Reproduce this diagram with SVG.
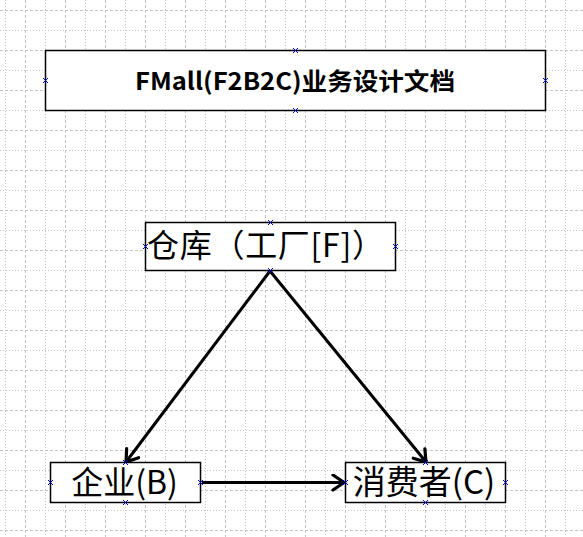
<svg xmlns="http://www.w3.org/2000/svg" width="583" height="537" viewBox="0 0 583 537">
<defs>
<style>
.gd{stroke:#c4c4c4;stroke-width:1;stroke-dasharray:3 2;}
.gt{stroke:#c4c4c4;stroke-width:1;stroke-dasharray:1 2;}
.box{fill:#ffffff;stroke:#000000;stroke-width:1.5;}
.lbl{font-family:"Noto Sans CJK SC","Liberation Sans",sans-serif;font-size:32px;fill:#000000;dominant-baseline:central;}
.ttl{font-family:"Noto Sans CJK SC","Liberation Sans",sans-serif;font-size:24px;font-weight:bold;fill:#000000;dominant-baseline:central;}
.pt{stroke:#0000cc;stroke-width:1;fill:none;}
.edge{stroke:#000000;stroke-width:3;fill:none;marker-end:url(#arr);}
</style>
<marker id="arr" markerUnits="userSpaceOnUse" markerWidth="18" markerHeight="20" refX="14" refY="9" orient="auto">
<path d="M3,1.5 L14,9 L3,16.5" fill="none" stroke="#000000" stroke-width="3.2" stroke-linecap="round" stroke-linejoin="miter"/>
</marker>
<g id="pt">
<path class="pt" d="M-2.5,-2.5 L2.5,2.5 M-2.5,2.5 L2.5,-2.5"/>
</g>
</defs>
<rect width="583" height="537" fill="#ffffff"/>
<g id="grid">
<path class="gt" d="M5.5,0V537M45.5,0V537M85.5,0V537M125.5,0V537M165.5,0V537M205.5,0V537M245.5,0V537M285.5,0V537M325.5,0V537M365.5,0V537M405.5,0V537M445.5,0V537M485.5,0V537M525.5,0V537M565.5,0V537"/>
<path class="gd" d="M25.5,0V537M65.5,0V537M105.5,0V537M145.5,0V537M185.5,0V537M225.5,0V537M265.5,0V537M305.5,0V537M345.5,0V537M385.5,0V537M425.5,0V537M465.5,0V537M505.5,0V537M545.5,0V537"/>
<path class="gd" d="M0,10.5H583M0,50.5H583M0,90.5H583M0,130.5H583M0,170.5H583M0,210.5H583M0,250.5H583M0,290.5H583M0,330.5H583M0,370.5H583M0,410.5H583M0,450.5H583M0,490.5H583M0,530.5H583"/>
<path class="gt" d="M0,30.5H583M0,70.5H583M0,110.5H583M0,150.5H583M0,190.5H583M0,230.5H583M0,270.5H583M0,310.5H583M0,350.5H583M0,390.5H583M0,430.5H583M0,470.5H583M0,510.5H583"/>
</g>
<g id="title">
<rect class="box" x="45.5" y="50.5" width="500" height="60"/>
<text class="ttl" x="135" y="79" textLength="320" lengthAdjust="spacingAndGlyphs">FMall(F2B2C)业务设计文档</text>
<use href="#pt" x="295.5" y="50.5"/><use href="#pt" x="295.5" y="110.5"/><use href="#pt" x="45.5" y="80.5"/><use href="#pt" x="545.5" y="80.5"/>
</g>
<g id="edges">
<line class="edge" x1="270" y1="271" x2="126" y2="462"/>
<line class="edge" x1="270" y1="271" x2="426" y2="462"/>
<line class="edge" x1="202" y1="482.5" x2="344" y2="482.5"/>
</g>
<g id="warehouse">
<rect class="box" x="145.5" y="222.5" width="250" height="48"/>
<text class="lbl" x="147" y="243" textLength="237" lengthAdjust="spacing">仓库（工厂[F]）</text>
<use href="#pt" x="270.5" y="222.5"/><use href="#pt" x="270.5" y="270.5"/><use href="#pt" x="145.5" y="246.5"/><use href="#pt" x="395.5" y="246.5"/>
</g>
<g id="enterprise">
<rect class="box" x="50.5" y="462.5" width="150" height="40"/>
<text class="lbl" x="124.5" y="480" text-anchor="middle">企业(B)</text>
<use href="#pt" x="125.5" y="462.5"/><use href="#pt" x="125.5" y="502.5"/><use href="#pt" x="50.5" y="482.5"/><use href="#pt" x="200.5" y="482.5"/>
</g>
<g id="consumer">
<rect class="box" x="345.5" y="462.5" width="160" height="40"/>
<text class="lbl" x="424" y="480" text-anchor="middle" style="font-size:33px">消费者(C)</text>
<use href="#pt" x="425.5" y="462.5"/><use href="#pt" x="425.5" y="502.5"/><use href="#pt" x="345.5" y="482.5"/><use href="#pt" x="505.5" y="482.5"/>
</g>
</svg>
